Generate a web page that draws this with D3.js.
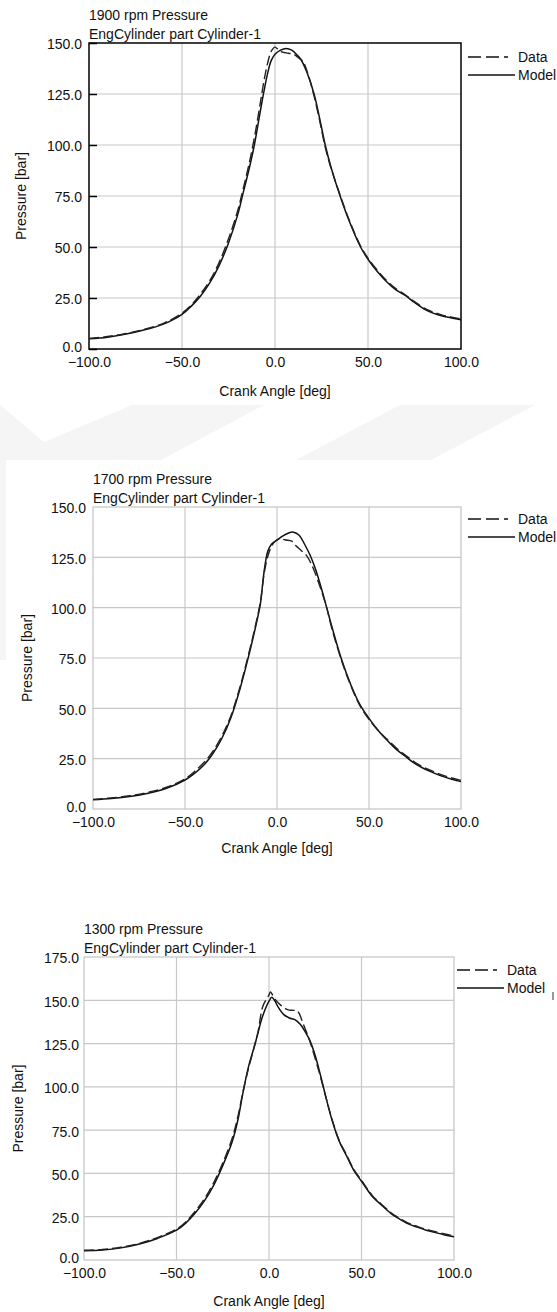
<!DOCTYPE html>
<html>
<head>
<meta charset="utf-8">
<script src="https://cdn.jsdelivr.net/npm/d3@7"></script>
<style>
  html, body { margin: 0; padding: 0; background: #fff; }
  svg { display: block; }
  text { font-family: "Liberation Sans", Arial, sans-serif; fill: #111; }
</style>
</head>
<body>
<svg id="chart" width="557" height="1312"></svg>
<script>
// ---------------- DATA ----------------
const xTicks = [-100, -50, 0, 50, 100];
const yTicks150 = [0, 25, 50, 75, 100, 125, 150];
const yTicks175 = [0, 25, 50, 75, 100, 125, 150, 175];
const seriesNames = ["Data", "Model"];
const subTitle = "EngCylinder part Cylinder-1";
const xAxisTitle = "Crank Angle [deg]";
const yAxisTitle = "Pressure [bar]";

// 1900 rpm
const title1900 = "1900 rpm Pressure";
const modelAngle1900 = [-100,-90,-80,-70,-60,-55,-50,-45,-40,-35,-30,-25,-20,-17,-14,-11,-8,-6,-4,-2,0,3,6,9,12,14,17,21,24,27,30,35,40,46,50,55,60,65,70,75,80,85,90,95,100];
const modelP1900     = [5.0,5.8,7.3,9.4,12.2,14.3,17,21,26,32.5,41,52,66,77,88,100.5,116,126,135,141.5,144.5,146.5,147.3,146.5,144,141.8,136,125,113,100,89.5,75,62.5,50,44,38,33,29,26.3,22.8,19.7,17.6,16.2,15.2,14.3];
const dataAngle1900  = [-100,-90,-80,-70,-60,-55,-50,-45,-40,-35,-30,-25,-20,-17,-14,-11,-8,-6,-4,-2,0,2,4,7,10,13,15,18,21,24,27,30,35,40,46,50,55,60,65,70,75,80,85,90,95,100];
const dataP1900      = [5.2,6.1,7.6,9.7,12.6,14.8,17.5,21.6,27,33.6,42.5,54,68,79,90.5,104,120,131,140,146,148,146.5,145.5,145,144.5,142.5,141,134,124,112,99,89,75.5,63,50.5,44.5,38.6,33.6,29.6,26.6,23.2,20.2,18.1,16.6,15.6,14.7];

// 1700 rpm
const title1700 = "1700 rpm Pressure";
const modelAngle1700 = [-100,-90,-80,-70,-60,-50,-45,-40,-35,-30,-25,-20,-15,-12,-9,-8,-7,-6,-5,-3,0,3,6,9,12,15,18,21,24,27,30,35,40,45,50,55,60,65,70,75,80,85,90,95,100];
const modelP1700     = [4.6,5.2,6.2,7.8,10.3,14.4,17.6,21.6,27.3,35,45.5,60,77.5,89,102,110,118,124,128,131.5,133.5,135.5,137,137.5,136,131.5,126,119,110,100,90,74.5,62,52,45,39,34,29.5,26,22.5,20,18,16.2,14.8,13.6];
const dataAngle1700  = [-100,-90,-80,-70,-60,-50,-45,-40,-35,-30,-25,-20,-15,-12,-9,-7,-5,-3,-1,1,3,5,8,10,13,16,19,22,25,27,30,35,40,45,50,55,60,65,70,75,80,85,90,95,100];
const dataP1700      = [4.8,5.5,6.6,8.3,10.8,15,18.5,22.8,28.5,36.2,46.5,61,78.5,90,103,117,125.5,130.5,133,134.2,134,133.6,133,131,128.5,126,121,114,106,100,89,74,61.5,51.5,44.5,39,34.5,30.2,26.6,23.2,20.6,18.6,16.8,15.4,14.2];

// 1300 rpm
const title1300 = "1300 rpm Pressure";
const modelAngle1300 = [-100,-90,-80,-70,-60,-50,-45,-40,-35,-30,-25,-20,-17,-14,-11,-8,-6,-4,-2,0,1.5,3,5,8,11,14,17,20,22,25,28,31,34,38,42,46,50,56,60,66,70,75,80,85,90,95,100];
const modelP1300     = [5.4,5.8,7,9.2,12.6,17.2,21.3,27,34,43,54.5,68,80,97,112,123,131,139,145,149.5,151.7,150,146,141.7,139.8,138.8,136,131,127,118,106,93,81,68.5,60,51.5,45.5,36.5,32.5,26.8,24,21,19,17.2,15.8,14.5,13.4];
const dataAngle1300  = [-100,-90,-80,-70,-60,-50,-45,-40,-35,-30,-25,-20,-17,-14,-11,-8,-6,-3.5,-1.5,0,0.8,3,6,10,13,15,16.5,18,22,24,27.5,31,34,38,42,46,50,56,60,66,70,75,80,85,90,95,100];
const dataP1300      = [5.6,6.1,7.4,9.6,13.1,17.8,22,28,35.2,44.5,56,70,82,97.5,111,123,131.5,146,150.5,153,154.8,151,147.5,144.6,144.2,144.2,142,137.8,126.6,119.8,107,93,81.5,69,60.6,52,46,37,33,27.3,24.5,21.5,19.5,17.7,16.3,15,13.9];

// ---------------- LAYOUT ----------------
const charts = [
  { title: title1900, yMax: 150, yTicks: yTicks150,
    mA: modelAngle1900, mP: modelP1900, dA: dataAngle1900, dP: dataP1900,
    L: 89, R: 461, T: 43, B: 349, frame: "#000", blackTicks: true,
    legX: 468, legY: 57, ylabX: 21, ylabGap: 7, xTitleDy: 42 },
  { title: title1700, yMax: 150, yTicks: yTicks150,
    mA: modelAngle1700, mP: modelP1700, dA: dataAngle1700, dP: dataP1700,
    L: 93, R: 461, T: 507, B: 809, frame: "#c4c4c4", blackTicks: false,
    legX: 468, legY: 519, ylabX: 27, ylabGap: 7, xTitleDy: 39 },
  { title: title1300, yMax: 175, yTicks: yTicks175,
    mA: modelAngle1300, mP: modelP1300, dA: dataAngle1300, dP: dataP1300,
    L: 84, R: 454, T: 957, B: 1260, frame: "#c4c4c4", blackTicks: false,
    legX: 457, legY: 970, ylabX: 18, ylabGap: 5, xTitleDy: 41 }
];

const svg = d3.select("#chart");
const FS = 14;

// faint background watermark
const wm = svg.append("g").attr("fill", "#f5f5f5");
wm.append("path").attr("d", "M0,405 L44,442 L132,405 L264,405 L161,460 L0,460 Z");
[[296,400],[560,664]].forEach(([b,t]) => {
  wm.append("path").attr("d", `M${b},460 L${t},405 L${t+135},405 L${b+135},460 Z`);
});
wm.append("rect").attr("x", 0).attr("y", 460).attr("width", 6).attr("height", 200);

const fmt = d3.format(".1f");

charts.forEach(c => {
  const g = svg.append("g");
  const x = d3.scaleLinear().domain([-100, 100]).range([c.L, c.R]);
  const y = d3.scaleLinear().domain([0, c.yMax]).range([c.B, c.T]);

  // grid
  g.append("g").selectAll("line.v").data(xTicks.slice(1, -1)).join("line")
    .attr("x1", d => x(d)).attr("x2", d => x(d)).attr("y1", c.T).attr("y2", c.B)
    .attr("stroke", "#c8c8c8").attr("stroke-width", 1.2);
  g.append("g").selectAll("line.h").data(c.yTicks.slice(1, -1)).join("line")
    .attr("x1", c.L).attr("x2", c.R).attr("y1", d => y(d)).attr("y2", d => y(d))
    .attr("stroke", "#c8c8c8").attr("stroke-width", 1.2);

  // frame
  g.append("rect").attr("x", c.L).attr("y", c.T).attr("width", c.R - c.L).attr("height", c.B - c.T)
    .attr("fill", "none").attr("stroke", c.frame).attr("stroke-width", c.blackTicks ? 1.5 : 1.2);

  // y axis
  const yAxis = d3.axisLeft(y).tickValues(c.yTicks).tickFormat(fmt)
    .tickSizeOuter(0).tickSizeInner(c.blackTicks ? -8 : 0).tickPadding(c.ylabGap);
  const ya = g.append("g").attr("transform", `translate(${c.L},0)`).call(yAxis);
  ya.select(".domain").remove();
  ya.selectAll("line").attr("stroke", "#000").attr("stroke-width", 1.5);
  ya.selectAll("text").attr("font-size", FS).attr("dy", d => d === 0 ? "0.2em" : "0.42em").attr("fill", "#111")
    .style("font-family", '"Liberation Sans", Arial, sans-serif');

  // x axis
  const xAxis = d3.axisBottom(x).tickValues(xTicks).tickFormat(fmt).tickSize(0).tickPadding(8);
  const xa = g.append("g").attr("transform", `translate(0,${c.B})`).call(xAxis);
  xa.select(".domain").remove();
  xa.selectAll("text").attr("font-size", FS).attr("fill", "#111")
    .style("font-family", '"Liberation Sans", Arial, sans-serif');

  // titles
  g.append("text").attr("x", c.L).attr("y", c.T - 23).attr("font-size", FS).text(c.title);
  g.append("text").attr("x", c.L).attr("y", c.T - 4).attr("font-size", FS).text(subTitle);
  g.append("text").attr("x", (c.L + c.R) / 2).attr("y", c.B + c.xTitleDy).attr("dy", "0.35em")
    .attr("text-anchor", "middle").attr("font-size", FS).text(xAxisTitle);
  g.append("text").attr("transform", `translate(${c.ylabX},${(c.T + c.B) / 2}) rotate(-90)`)
    .attr("dy", "0.35em").attr("text-anchor", "middle").attr("font-size", FS).text(yAxisTitle);

  // lines
  const line = d3.line().x(d => x(d[0])).y(d => y(d[1])).curve(d3.curveCatmullRom.alpha(0.5));
  const model = c.mA.map((a, i) => [a, c.mP[i]]);
  const data = c.dA.map((a, i) => [a, c.dP[i]]);
  g.append("path").datum(model).attr("d", line).attr("fill", "none")
    .attr("stroke", "#111").attr("stroke-width", 1.5);
  g.append("path").datum(data).attr("d", line).attr("fill", "none")
    .attr("stroke", "#222").attr("stroke-width", 1.4).attr("stroke-dasharray", "10,4");

  // legend
  const lg = g.append("g");
  seriesNames.forEach((name, i) => {
    const ly = c.legY + i * 18;
    lg.append("line").attr("x1", c.legX).attr("x2", c.legX + 47).attr("y1", ly).attr("y2", ly)
      .attr("stroke", "#111").attr("stroke-width", 1.3)
      .attr("stroke-dasharray", name === "Data" ? "13,5,13,5,4" : null);
    lg.append("text").attr("x", c.legX + 50).attr("y", ly).attr("dy", "0.35em")
      .attr("font-size", FS).text(name);
  });
});

// small stray mark beside the last legend
svg.append("line").attr("x1", 553).attr("x2", 553).attr("y1", 992).attr("y2", 1000)
  .attr("stroke", "#333").attr("stroke-width", 1);
</script>
</body>
</html>
